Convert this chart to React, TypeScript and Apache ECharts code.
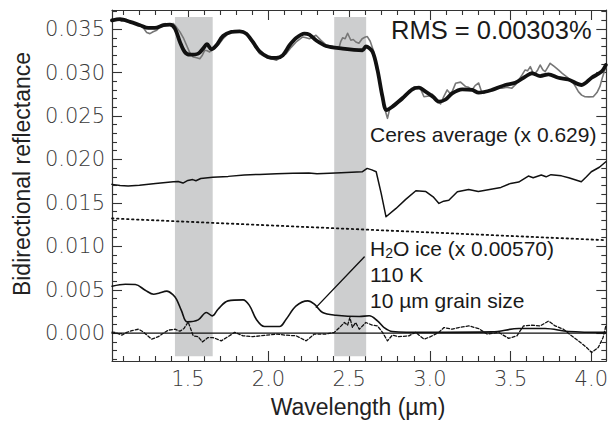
import React, { useEffect, useRef } from "react";
import * as echarts from "echarts";

// ---------- data (wavelength µm, bidirectional reflectance) ----------
const observed: [number, number][] = [
  [1.03, 0.0360], [1.06, 0.0362], [1.09, 0.0359], [1.12, 0.0361], [1.15, 0.0357], [1.19, 0.0356],
  [1.224, 0.03514], [1.245, 0.0346], [1.265, 0.03448], [1.285, 0.0347], [1.307, 0.03487], [1.33, 0.0353],
  [1.358, 0.03563], [1.385, 0.0355], [1.41, 0.03563], [1.43, 0.0352], [1.451, 0.03468], [1.472, 0.0340],
  [1.492, 0.03314], [1.512, 0.0323], [1.533, 0.0318], [1.555, 0.0317], [1.574, 0.0316], [1.59, 0.0320],
  [1.605, 0.03257], [1.62, 0.0325], [1.635, 0.03237], [1.651, 0.0326], [1.666, 0.03275], [1.69, 0.0332],
  [1.718, 0.0339], [1.745, 0.0344], [1.77, 0.03464], [1.805, 0.0347], [1.842, 0.03468], [1.87, 0.0342],
  [1.9, 0.0334], [1.944, 0.03218], [1.99, 0.0317], [2.02, 0.0316], [2.048, 0.03142], [2.08, 0.0318],
  [2.11, 0.03218], [2.14, 0.0329], [2.171, 0.03352], [2.19, 0.0338], [2.212, 0.0341], [2.233, 0.0340],
  [2.253, 0.0339], [2.275, 0.0341], [2.294, 0.03429], [2.325, 0.0337], [2.356, 0.03318], [2.4, 0.0330],
  [2.438, 0.03295], [2.448, 0.0336], [2.459, 0.0340], [2.475, 0.0339], [2.49, 0.03452], [2.51, 0.03372],
  [2.525, 0.0338], [2.541, 0.03352], [2.56, 0.03337], [2.58, 0.0339], [2.6, 0.0341], [2.612, 0.03414],
  [2.63, 0.0336], [2.65, 0.0325], [2.668, 0.0310], [2.686, 0.02915], [2.7, 0.0275], [2.716, 0.02607],
  [2.737, 0.02473], [2.752, 0.0259], [2.767, 0.0262], [2.8, 0.0265], [2.829, 0.0268], [2.865, 0.0277],
  [2.902, 0.02837], [2.92, 0.0283], [2.94, 0.0282], [2.963, 0.02722], [2.994, 0.0273], [3.015, 0.0275],
  [3.035, 0.0269], [3.066, 0.02638], [3.085, 0.0272], [3.107, 0.0280], [3.125, 0.0276], [3.138, 0.0278],
  [3.159, 0.02876], [3.19, 0.0289], [3.22, 0.0284], [3.24, 0.0283], [3.261, 0.0280], [3.28, 0.0285],
  [3.302, 0.0288], [3.318, 0.0279], [3.333, 0.02761], [3.36, 0.0279], [3.385, 0.0280], [3.415, 0.0283],
  [3.447, 0.0282], [3.478, 0.0283], [3.508, 0.0282], [3.53, 0.0286], [3.55, 0.02915], [3.57, 0.0297],
  [3.59, 0.0303], [3.605, 0.0302], [3.622, 0.03068], [3.638, 0.0300], [3.653, 0.02992], [3.668, 0.0303],
  [3.683, 0.03087], [3.7, 0.0303], [3.714, 0.0301], [3.73, 0.0306], [3.745, 0.03107], [3.77, 0.0307],
  [3.796, 0.0303], [3.82, 0.0299], [3.848, 0.0295], [3.87, 0.0291], [3.889, 0.0288], [3.905, 0.0283],
  [3.92, 0.0278], [3.94, 0.0274], [3.961, 0.02722], [3.985, 0.0272], [4.012, 0.02722], [4.035, 0.0277],
  [4.053, 0.02837], [4.07, 0.0295], [4.084, 0.0303], [4.09, 0.0306],
];

const model: [number, number][] = [
  [1.03, 0.03600], [1.08, 0.03614], [1.142, 0.03583], [1.204, 0.03545], [1.255, 0.03514], [1.296, 0.03514],
  [1.348, 0.03545], [1.389, 0.03552], [1.42, 0.03506], [1.451, 0.03352], [1.481, 0.03237], [1.512, 0.03206],
  [1.564, 0.03218], [1.594, 0.03275], [1.619, 0.03326], [1.646, 0.03268], [1.677, 0.03314], [1.718, 0.03421],
  [1.77, 0.03468], [1.821, 0.03475], [1.862, 0.03448], [1.903, 0.03352], [1.944, 0.03245], [1.996, 0.0318],
  [2.048, 0.03168], [2.088, 0.03199], [2.13, 0.03314], [2.171, 0.03398], [2.222, 0.03448], [2.253, 0.03436],
  [2.294, 0.03372], [2.356, 0.03306], [2.459, 0.03275], [2.53, 0.03262], [2.582, 0.03257], [2.603, 0.03300],
  [2.644, 0.03241], [2.675, 0.0303], [2.706, 0.02722], [2.73, 0.02569], [2.767, 0.02607], [2.829, 0.02704],
  [2.891, 0.02807], [2.932, 0.02826], [2.973, 0.0278], [3.02, 0.0272], [3.056, 0.02665], [3.097, 0.0269],
  [3.138, 0.02761], [3.2, 0.02807], [3.261, 0.0280], [3.302, 0.02768], [3.385, 0.0280], [3.467, 0.02857],
  [3.529, 0.02883], [3.591, 0.02953], [3.632, 0.02992], [3.683, 0.0296], [3.735, 0.0298], [3.796, 0.0294],
  [3.858, 0.0292], [3.94, 0.02857], [4.002, 0.0294], [4.063, 0.0301], [4.09, 0.03087],
];

const ceresAverage: [number, number][] = [
  [1.03, 0.01713], [1.08, 0.01700], [1.13, 0.01693], [1.2, 0.01703], [1.3, 0.01722], [1.41, 0.01743],
  [1.44, 0.01745], [1.47, 0.01728], [1.5, 0.01758], [1.53, 0.01768], [1.55, 0.01755], [1.58, 0.01780],
  [1.654, 0.01794], [1.75, 0.01805], [1.85, 0.01822], [1.944, 0.01828], [2.05, 0.01836], [2.15, 0.0184],
  [2.25, 0.01845], [2.3, 0.01836], [2.377, 0.0184], [2.45, 0.01846], [2.58, 0.01858], [2.611, 0.01897],
  [2.64, 0.01880], [2.667, 0.01858], [2.698, 0.0161], [2.728, 0.0134], [2.79, 0.01436], [2.85, 0.0154],
  [2.913, 0.0164], [2.975, 0.0163], [3.02, 0.0157], [3.056, 0.01494], [3.085, 0.01520], [3.117, 0.0153],
  [3.17, 0.01628], [3.24, 0.01655], [3.3, 0.0163], [3.37, 0.01655], [3.44, 0.01678], [3.5, 0.01724],
  [3.55, 0.01740], [3.61, 0.01809], [3.64, 0.01790], [3.69, 0.0182], [3.72, 0.01800], [3.75, 0.01825],
  [3.815, 0.01811], [3.86, 0.01790], [3.938, 0.01743], [3.97, 0.01800], [4.0, 0.01858], [4.05, 0.0191],
  [4.09, 0.01973],
];

const continuum: [number, number][] = [
  [1.03, 0.01321], [4.09, 0.01071],
];

const h2oIce: [number, number][] = [
  [1.03, 0.00541], [1.113, 0.00564], [1.175, 0.0056], [1.236, 0.00495], [1.288, 0.00449], [1.32, 0.0046],
  [1.37, 0.00484], [1.41, 0.00438], [1.43, 0.0039], [1.461, 0.00257], [1.496, 0.0013], [1.564, 0.00153],
  [1.615, 0.00238], [1.652, 0.00199], [1.687, 0.00276], [1.749, 0.00372], [1.842, 0.00384], [1.883, 0.00315],
  [1.924, 0.00161], [1.975, 0.00077], [2.068, 0.00077], [2.109, 0.00161], [2.171, 0.00315], [2.243, 0.00372],
  [2.284, 0.00334], [2.335, 0.00238], [2.418, 0.00207], [2.562, 0.00192], [2.624, 0.0020], [2.675, 0.00142],
  [2.716, 0.00065], [2.767, 0.0002], [2.973, 0.0001], [3.385, 0.00015], [3.55, 0.00054], [3.714, 0.00054],
  [3.858, 0.0002], [4.09, 0.0001],
];

const residual: [number, number][] = [
  [1.03, 0.00012], [1.05, 0.0001], [1.091, -0.00023], [1.122, 0.0001], [1.153, 0.0003], [1.194, 0.00046],
  [1.224, 0.00015], [1.276, -0.00069], [1.317, -0.0004], [1.348, 0.0], [1.379, 0.00035], [1.42, 0.00046],
  [1.451, 0.00023], [1.476, 0.00054], [1.502, 0.0013], [1.533, -0.0003], [1.564, -0.0004], [1.59, -0.001],
  [1.625, -0.0005], [1.656, -0.0005], [1.707, -0.00088], [1.749, -0.0004], [1.79, 0.0001], [1.842, -0.0003],
  [1.903, -0.0004], [1.986, -0.00023], [2.048, -0.0001], [2.109, -0.00023], [2.171, -0.0003], [2.233, -0.00088],
  [2.284, -0.0001], [2.356, -0.0001], [2.408, 0.0001], [2.45, 0.00084], [2.47, 0.00123], [2.49, 0.00092],
  [2.504, 0.0018], [2.52, 0.00065], [2.54, 0.00123], [2.562, 0.00046], [2.603, 0.00123], [2.644, 0.00092],
  [2.675, 0.00084], [2.706, 0.0001], [2.737, -0.00088], [2.767, -0.00023], [2.808, -0.0004], [2.87, -0.0003],
  [2.912, 0.0001], [2.963, -0.00069], [3.004, -0.0004], [3.056, 0.0001], [3.087, 0.00065], [3.138, 0.00046],
  [3.179, 0.00065], [3.241, 0.00084], [3.302, 0.00054], [3.354, -0.0001], [3.426, 0.0001], [3.488, -0.0006],
  [3.539, -0.0003], [3.58, 0.00084], [3.632, 0.00092], [3.683, 0.00084], [3.735, 0.0014], [3.776, 0.00084],
  [3.827, 0.00046], [3.878, -0.0003], [3.92, -0.00088], [3.971, -0.00165], [4.002, -0.00223], [4.043, -0.00165],
  [4.073, -0.0005], [4.09, 0.00084],
];

const zeroLine: [number, number][] = [[1.03, 0], [4.09, 0]];
const leader: [number, number][] = [[2.296, 0.0030], [2.593, 0.00876]];

// shaded wavelength bands [start, end]
const bandStarts = [1.42, 2.407];
const bandEnds = [1.654, 2.605];
const bandLow = -0.00265;
const bandHigh = 0.03638;

// axis ticks
const xMajor = [1.5, 2.0, 2.5, 3.0, 3.5, 4.0];
const yMajor = [0.0, 0.005, 0.01, 0.015, 0.02, 0.025, 0.03, 0.035];
const xMin = 1.03, xMax = 4.093;
const yMin = -0.0032, yMax = 0.0372;

const xMinor: number[] = [];
for (let i = 11; i <= 40; i++) if (i % 5 !== 0) xMinor.push(i / 10);
const yMinor: number[] = [];
for (let i = -3; i <= 37; i++) if (i % 5 !== 0) yMinor.push(i / 1000);

const AX = "#333";
const tickFont = { fontFamily: "'DejaVu Sans', sans-serif", fontWeight: 200 as any, fontSize: 21, color: "#3a3a3a" };
const SANS = "'Liberation Sans', Arial, sans-serif";

export default function App() {
  const ref = useRef<HTMLDivElement>(null);
  useEffect(() => {
    if (!ref.current) return;
    const chart = echarts.init(ref.current, undefined, { renderer: "svg" });

    const mkX = (pos: "bottom" | "top", values: number[], len: number, labels: boolean, line: boolean) => ({
      type: "value", position: pos, min: xMin, max: xMax, scale: true,
      axisLine: { show: line, onZero: false, lineStyle: { color: AX, width: 1.2 } },
      axisTick: { show: true, inside: true, length: len, customValues: values, lineStyle: { color: AX, width: 1.1 } },
      axisLabel: labels
        ? { show: true, customValues: values, margin: 7, formatter: (v: number) => v.toFixed(1), ...tickFont }
        : { show: false },
      splitLine: { show: false },
    });
    const mkY = (pos: "left" | "right", values: number[], len: number, labels: boolean, line: boolean) => ({
      type: "value", position: pos, min: yMin, max: yMax, scale: true,
      axisLine: { show: line, onZero: false, lineStyle: { color: AX, width: 1.2 } },
      axisTick: { show: true, inside: true, length: len, customValues: values, lineStyle: { color: AX, width: 1.1 } },
      axisLabel: labels
        ? { show: true, customValues: values, margin: 7, formatter: (v: number) => v.toFixed(3), ...tickFont }
        : { show: false },
      splitLine: { show: false },
    });

    const lineSeries = (name: string, data: [number, number][], color: string, width: number, type: any = "solid", smooth: any = false, z = 3) => ({
      name, type: "line", data, xAxisIndex: 0, yAxisIndex: 0, symbol: "none", smooth, z,
      lineStyle: { color, width, type, cap: "round", join: "round" },
      emphasis: { disabled: true },
    });

    const bandData = bandStarts.map((s, i) => [
      { xAxis: s, yAxis: bandLow },
      { xAxis: bandEnds[i], yAxis: bandHigh },
    ]);

    chart.setOption({
      animation: false,
      grid: { left: 112, right: 3, top: 10, bottom: 61, containLabel: false },
      xAxis: [
        mkX("bottom", xMajor, 10, true, true),
        mkX("bottom", xMinor, 5, false, false),
        mkX("top", xMajor, 10, false, true),
        mkX("top", xMinor, 5, false, false),
      ],
      yAxis: [
        mkY("left", yMajor, 10, true, true),
        mkY("left", yMinor, 5, false, false),
        mkY("right", yMajor, 10, false, true),
        mkY("right", yMinor, 5, false, false),
      ],
      series: [
        {
          type: "line", data: [], xAxisIndex: 0, yAxisIndex: 0, z: 1, symbol: "none",
          markArea: { silent: true, itemStyle: { color: "#cdcecf", opacity: 1 }, data: bandData },
        },
        lineSeries("zero", zeroLine, "#111", 1.2),
        lineSeries("continuum", continuum, "#111", 1.8, [1.5, 3.5]),
        lineSeries("ceres", ceresAverage, "#111", 1.5),
        lineSeries("h2o", h2oIce, "#111", 1.6, "solid", 0.35),
        lineSeries("residual", residual, "#111", 1.3, [3, 2]),
        lineSeries("leader", leader, "#111", 1.4),
        lineSeries("observed", observed, "#777", 1.6, "solid", false, 3),
        lineSeries("model", model, "#111", 3.8, "solid", 0.3, 4),
      ],
      graphic: [
        {
          type: "text", left: 391, top: 17, z: 10,
          style: { text: "RMS = 0.00303%", fontFamily: SANS, fontSize: 25.5, fill: "#1a1a1a" },
        },
        {
          type: "text", left: 370, top: 124, z: 10,
          style: { text: "Ceres average (x 0.629)", fontFamily: SANS, fontSize: 21, fill: "#1a1a1a" },
        },
        {
          type: "text", left: 370, top: 238, z: 10,
          style: {
            text: "H{sub|2}O ice (x 0.00570)",
            fontFamily: SANS, fontSize: 21, fill: "#1a1a1a",
            rich: { sub: { fontFamily: SANS, fontSize: 14, fill: "#1a1a1a", padding: [9, 0, 0, 0] } },
          },
        },
        {
          type: "text", left: 370, top: 264, z: 10,
          style: { text: "110 K", fontFamily: SANS, fontSize: 21, fill: "#1a1a1a" },
        },
        {
          type: "text", left: 370, top: 290, z: 10,
          style: { text: "10 µm grain size", fontFamily: SANS, fontSize: 21, fill: "#1a1a1a" },
        },
        {
          type: "text", x: 358, y: 407, z: 10,
          style: {
            text: "Wavelength (µm)", fontFamily: SANS, fontSize: 23, fill: "#222",
            align: "center", verticalAlign: "middle",
          },
        },
        {
          type: "text", x: 22, y: 174, rotation: Math.PI / 2, z: 10,
          style: {
            text: "Bidirectional reflectance", fontFamily: SANS, fontSize: 23, fill: "#222",
            align: "center", verticalAlign: "middle",
          },
        },
      ],
    });
    return () => chart.dispose();
  }, []);

  return (
    <div
      ref={ref}
      style={{ position: "fixed", left: 0, top: 0, width: 611, height: 422, background: "#fff" }}
    />
  );
}
